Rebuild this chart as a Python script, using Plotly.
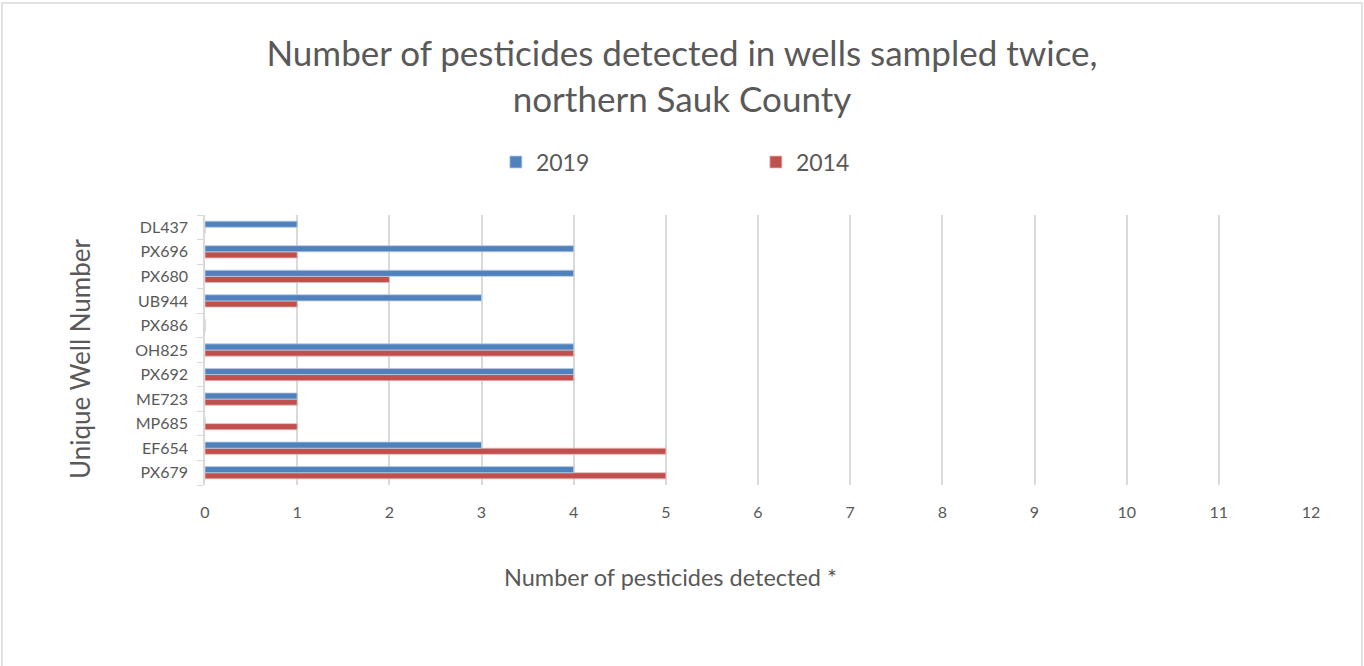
import plotly.graph_objects as go

# wells, listed bottom to top as they appear on the y axis
wells = ['PX679', 'EF654', 'MP685', 'ME723', 'PX692', 'OH825',
         'PX686', 'UB944', 'PX680', 'PX696', 'DL437']
counts_2019 = [4, 3, 0, 1, 4, 4, 0, 3, 4, 4, 1]
counts_2014 = [5, 5, 1, 1, 4, 4, 0, 1, 2, 1, 0]
x_ticks = list(range(0, 13))

TEXT = '#595959'
FONT = 'Lato'

# plot area in pixels (margins below)
L, R, T, B = 205, 53, 215, 181
PW, PH = 1364 - L - R, 666 - T - B


def px_x(x):
    return (x - L) / PW


def px_y(y):
    return (666 - B - y) / PH


# 2014 added first so 2019 sits on top inside each group
bar_2014 = go.Bar(
    y=wells, x=counts_2014, name='2014', orientation='h',
    marker=dict(color='#C0504D', line=dict(color='#E6B9B8', width=0.8)),
    legendrank=2,
)
bar_2019 = go.Bar(
    y=wells, x=counts_2019, name='2019', orientation='h',
    marker=dict(color='#4F81BD', line=dict(color='#B9CDE5', width=0.8)),
    legendrank=1,
)

fig = go.Figure(data=[bar_2014, bar_2019])

fig.update_layout(
    width=1364, height=666,
    margin=dict(l=L, r=R, t=T, b=B),
    paper_bgcolor='white', plot_bgcolor='white',
    font=dict(family=FONT, color=TEXT),
    barmode='group', bargap=0.5, bargroupgap=0.0,
    title=dict(
        text='Number of pesticides detected in wells sampled twice,<br>northern Sauk County',
        x=0.5, xanchor='center', xref='container',
        y=1 - 66 / 666, yanchor='middle', yref='container',
        font=dict(size=35, color=TEXT, family=FONT),
    ),
    legend=dict(
        orientation='h', x=0.263, xanchor='left', y=1.196, yanchor='middle',
        entrywidth=215, entrywidthmode='pixels',
        font=dict(size=23, color=TEXT), itemclick=False,
    ),
)

fig.update_xaxes(
    range=[0, 12], tickvals=x_ticks, showgrid=True, gridcolor='#D9D9D9',
    gridwidth=1.5, zeroline=False, showline=False, ticks='',
    tickfont=dict(size=16, color=TEXT), ticklabelstandoff=16,
)
fig.update_yaxes(
    type='category', categoryorder='array', categoryarray=wells,
    range=[-0.5, 10.5], showline=True, linecolor='#D9D9D9', linewidth=1.5,
    ticks='outside', tickson='boundaries', ticklen=6, tickcolor='#D9D9D9',
    showgrid=False, tickfont=dict(size=16, color=TEXT), ticklabelstandoff=12,
)

# axis titles, placed as in the original (not centred on the plot area)
fig.add_annotation(
    text='Number of pesticides detected *', xref='paper', yref='paper',
    x=px_x(670), y=px_y(577), xanchor='center', yanchor='middle',
    showarrow=False, font=dict(size=23.5, color=TEXT),
)
fig.add_annotation(
    text='Unique Well Number', xref='paper', yref='paper',
    x=px_x(80), y=px_y(359), xanchor='center', yanchor='middle',
    textangle=-90, showarrow=False, font=dict(size=26, color=TEXT),
)

# chart-area frame
fig.add_shape(
    type='rect', xref='paper', yref='paper',
    x0=px_x(2), x1=px_x(1362), y0=px_y(670), y1=px_y(3),
    line=dict(color='#D9D9D9', width=1.5), fillcolor='rgba(0,0,0,0)', layer='below',
)

fig.write_html('out.html', config={'displayModeBar': False},
               post_script="document.body.style.margin='0';")
